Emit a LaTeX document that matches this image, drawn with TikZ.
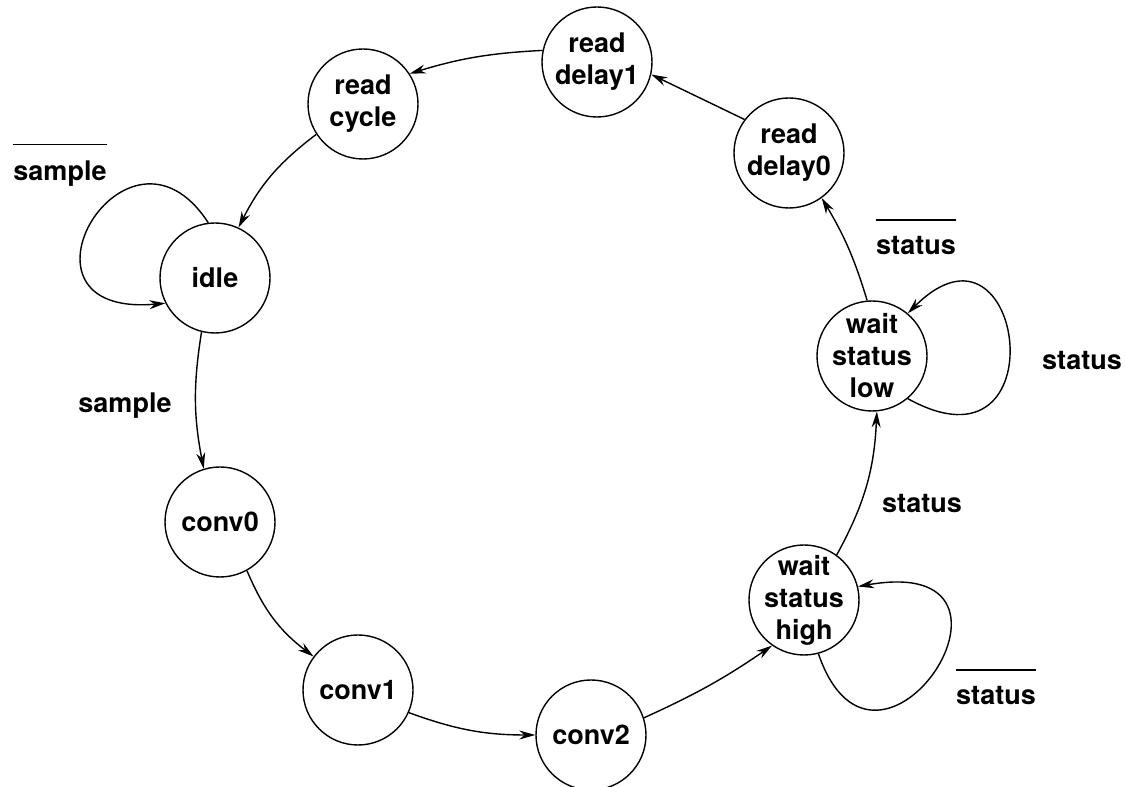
\documentclass[tikz,border=0pt]{standalone}
\usepackage{fontspec}
\setmainfont{TeX Gyre Heros}
\usetikzlibrary{arrows.meta}
\newcommand{\notsig}[1]{\vbox{\hrule height 0.7pt\vskip 8pt\hbox{#1}}}

\begin{document}
\begin{tikzpicture}[x=0.5pt,y=0.5pt,>={Stealth[length=8pt,width=4.5pt]},line width=0.7pt,
				state/.style={circle,draw,minimum size=55pt,inner sep=-2pt,align=center,
					font=\fontsize{13.5}{16}\selectfont\bfseries},
				lbl/.style={anchor=base,inner sep=0pt,font=\fontsize{13.5}{16}\selectfont\bfseries}]
				\useasboundingbox (0,0) rectangle (1125,787);
				% states
				\node[state] (rd1) at (597,725) {read\\delay1};
				\node[state] (rc) at (363,683) {read\\cycle};
				\node[state] (idle) at (215,509) {idle};
				\node[state] (conv0) at (220,265) {conv0};
				\node[state] (conv1) at (358,97) {conv1};
				\node[state] (conv2) at (591,52) {conv2};
				\node[state] (wsh) at (804,187) {wait\\status\\high};
				\node[state] (wsl) at (872,431) {wait\\status\\low};
				\node[state] (rd0) at (789,634) {read\\delay0};
				% transitions
				\draw[->] (rd0.143) -- (rd1.-13);
				\draw[->] (rd1.168) to[bend right=7] (rc.33);
				\draw[->] (rc.213) to[bend right=13] (idle.65);
				\draw[->] (idle.97) .. controls +(123:150) and +(185:170) .. (idle.207);
				\draw[->] (idle.256) to[bend right=10] (conv0.107);
				\draw[->] (conv0.299) to[bend right=15] (conv1.143);
				\draw[->] (conv1.336) to[bend right=10] (conv2.180);
				\draw[->] (conv2.18) to[bend right=5] (wsh.235);
				\draw[->] (wsh.285) .. controls +(289:180) and +(10:200) .. (wsh.14);
				\draw[->] (wsh.54) to[bend right=13] (wsl.275);
				\draw[->] (wsl.310) .. controls +(331:175) and +(45:165) .. (wsl.50);
				\draw[->] (wsl.95) to[bend right=7] (rd0.306);
				% conditions
				\node[lbl] (nsample) at (60,606) {\notsig{sample}};
				\node[lbl] (sample) at (125,374) {sample};
				\node[lbl] (sthigh) at (922,274) {status};
				\node[lbl] (nsthigh) at (996,82) {\notsig{status}};
				\node[lbl] (stlow) at (1082,417) {status};
				\node[lbl] (nstlow) at (916,532) {\notsig{status}};
			\end{tikzpicture}
\end{document}
